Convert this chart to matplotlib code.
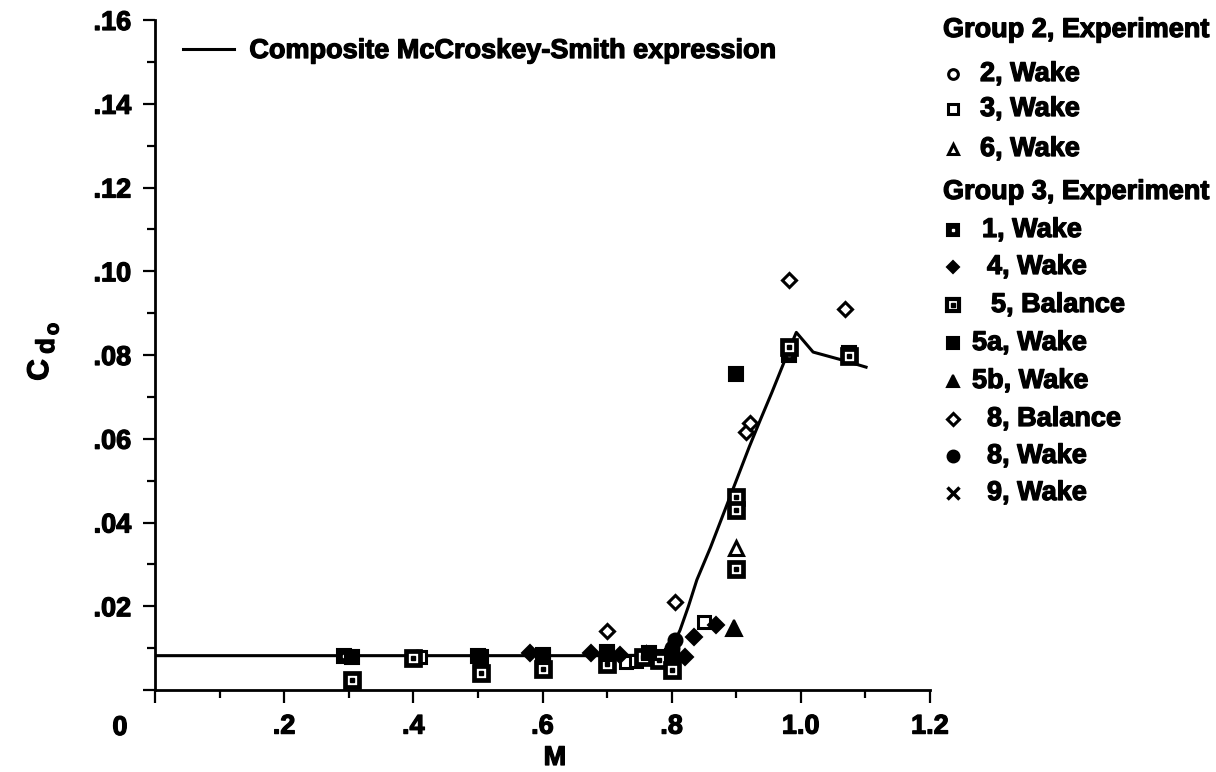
import matplotlib
matplotlib.use("Agg")
import matplotlib.pyplot as plt
import matplotlib.patheffects as pe
import numpy as np
from matplotlib.lines import Line2D
from matplotlib.ticker import MultipleLocator

plt.rcParams["font.family"] = ["Liberation Sans", "DejaVu Sans"]
plt.rcParams["font.weight"] = "bold"

# Composite McCroskey-Smith expression
curve_m = [0.0, 0.70, 0.76, 0.785, 0.80, 0.813, 0.826, 0.839, 0.86, 0.88, 0.90,
           0.92, 0.937, 0.955, 0.972, 0.985, 0.993, 1.019, 1.064, 1.101]
curve_cd = [0.0082, 0.0082, 0.0083, 0.0088, 0.0100, 0.0143, 0.0200, 0.0263, 0.0340,
            0.0420, 0.0500, 0.0580, 0.0644, 0.0710, 0.0775, 0.0825, 0.0854, 0.0807,
            0.0788, 0.0771]

# Group 2
g2_wake2_m = [0.405, 0.70, 0.80]
g2_wake2_cd = [0.0080, 0.0075, 0.0090]
g2_wake3_m = [0.41, 0.70, 0.73, 0.745, 0.85]
g2_wake3_cd = [0.0078, 0.0066, 0.0068, 0.0070, 0.0163]
g2_wake6_m = [0.76, 0.90]
g2_wake6_cd = [0.0085, 0.0340]

# Group 3
g3_wake1_m = [0.293, 0.50, 0.60, 0.70, 0.78, 0.982, 1.075]
g3_wake1_cd = [0.0082, 0.0082, 0.0084, 0.0090, 0.0078, 0.0800, 0.0805]
g3_wake4_m = [0.58, 0.675, 0.72, 0.82, 0.835, 0.868]
g3_wake4_cd = [0.0088, 0.0088, 0.0083, 0.0080, 0.0127, 0.0155]
g3_bal5_m = [0.305, 0.40, 0.505, 0.60, 0.70, 0.755, 0.78, 0.80, 0.90, 0.90, 0.90, 0.982, 1.075]
g3_bal5_cd = [0.0024, 0.0077, 0.0040, 0.0050, 0.0062, 0.0078, 0.0072, 0.0048,
              0.0460, 0.0430, 0.0290, 0.0818, 0.0798]
g3_wake5a_m = [0.305, 0.505, 0.60, 0.70, 0.765, 0.80, 0.90]
g3_wake5a_cd = [0.0079, 0.0080, 0.0078, 0.0085, 0.0088, 0.0082, 0.0755]
g3_wake5b_m = [0.897]
g3_wake5b_cd = [0.0148]
g3_bal8_m = [0.70, 0.805, 0.915, 0.922, 0.982, 1.068]
g3_bal8_cd = [0.0141, 0.0210, 0.0616, 0.0637, 0.0980, 0.0911]
g3_wake8_m = [0.80, 0.805]
g3_wake8_cd = [0.0100, 0.0120]
g3_wake9_m = []
g3_wake9_cd = []

x_ticks = [0, 0.2, 0.4, 0.6, 0.8, 1.0, 1.2]
x_tick_labels = ["", ".2", ".4", ".6", ".8", "1.0", "1.2"]
y_ticks = [0, 0.02, 0.04, 0.06, 0.08, 0.10, 0.12, 0.14, 0.16]
y_tick_labels = ["", ".02", ".04", ".06", ".08", ".10", ".12", ".14", ".16"]

W, H = 1216, 772
fig = plt.figure(figsize=(W / 100, H / 100), dpi=100)
ax = fig.add_axes([155 / W, 1 - 690 / H, 775 / W, 670 / H])

FS = 19.5
# slightly heavier strokes for all lettering
heavy = [pe.withStroke(linewidth=0.9, foreground="black")]
open_kw = dict(linestyle="none", mfc="white", mec="black", mew=2.2, color="black")
fill_kw = dict(linestyle="none", mfc="black", mec="black", mew=1.5, color="black")

line, = ax.plot(curve_m, curve_cd, color="black", lw=2.2, zorder=2)

ax.plot(g2_wake2_m, g2_wake2_cd, marker="o", ms=9, zorder=3, **open_kw)
ax.plot(g2_wake3_m, g2_wake3_cd, marker="s", ms=9, zorder=3, **open_kw)
ax.plot(g2_wake6_m, g2_wake6_cd, marker="^", ms=10, zorder=3, **open_kw)
ax.plot(g3_wake1_m, g3_wake1_cd, marker="s", ms=10, zorder=4, **fill_kw)
ax.plot(g3_wake1_m, g3_wake1_cd, marker="s", ms=2, linestyle="none",
        mfc="white", mec="white", zorder=4)
ax.plot(g3_wake4_m, g3_wake4_cd, marker="D", ms=8, zorder=4, **fill_kw)
ax.plot(g3_bal5_m, g3_bal5_cd, marker="s", ms=10, zorder=4, linestyle="none",
        mfc="white", mec="black", mew=3.4)
ax.plot(g3_bal5_m, g3_bal5_cd, marker="s", ms=2.5, linestyle="none",
        mfc="black", mec="black", zorder=4)
ax.plot(g3_wake5a_m, g3_wake5a_cd, marker="s", ms=10.5, zorder=4, **fill_kw)
ax.plot(g3_wake5b_m, g3_wake5b_cd, marker="^", ms=11, zorder=4, **fill_kw)
ax.plot(g3_bal8_m, g3_bal8_cd, marker="D", ms=7, zorder=4, **open_kw)
ax.plot(g3_wake8_m, g3_wake8_cd, marker="o", ms=10, zorder=4, **fill_kw)
ax.plot(g3_wake9_m, g3_wake9_cd, marker="x", ms=9, zorder=4, **fill_kw)

ax.set_xlim(0, 1.2)
ax.set_ylim(0, 0.16)
ax.set_xticks(x_ticks)
ax.set_xticklabels(x_tick_labels)
ax.set_yticks(y_ticks)
ax.set_yticklabels(y_tick_labels)
ax.xaxis.set_minor_locator(MultipleLocator(0.1))
ax.yaxis.set_minor_locator(MultipleLocator(0.01))
ax.tick_params(which="major", direction="out", length=9, width=1.6,
               labelsize=FS, pad=8)
ax.tick_params(which="minor", direction="out", length=6, width=1.6)
for lab in ax.get_xticklabels() + ax.get_yticklabels():
    lab.set_fontweight("bold")
    lab.set_path_effects(heavy)

for side in ["top", "right"]:
    ax.spines[side].set_visible(False)
for side in ["left", "bottom"]:
    ax.spines[side].set_linewidth(2.0)


def fig_xy(px, py):
    return px / W, 1 - py / H


def put_text(px, py, s, **kw):
    fx, fy = fig_xy(px, py)
    kw.setdefault("fontsize", FS)
    kw.setdefault("ha", "center")
    fig.text(fx, fy, s, fontweight="bold", va="center", path_effects=heavy, **kw)


# axis titles
put_text(555, 758, "M")
put_text(120, 728, "0")
put_text(40, 370, "C", fontsize=FS + 2, rotation=90)
put_text(47, 346, "d", fontsize=FS - 1, rotation=90)
put_text(53, 329, "o", fontsize=FS - 5, rotation=90)

leg = ax.legend([line], ["Composite McCroskey-Smith expression"], loc="upper left",
                bbox_to_anchor=((183 - 155) / 775, (690 - 38) / 670), frameon=False,
                handlelength=1.9, handletextpad=0.55,
                borderpad=0, borderaxespad=0, prop={"weight": "bold", "size": FS})
for t in leg.get_texts():
    t.set_path_effects(heavy)

# legend for the experiment groups, right of the axes
headers = [("Group 2, Experiment", 30), ("Group 3, Experiment", 192)]
for text, py in headers:
    put_text(943, py, text, ha="left")

entries = [
    ("2, Wake", 74, 980, dict(marker="o", ms=7, **open_kw)),
    ("3, Wake", 109, 980, dict(marker="s", ms=7, **open_kw)),
    ("6, Wake", 149, 980, dict(marker="^", ms=7, **open_kw)),
    ("1, Wake", 230, 982, dict(marker="s", ms=8, **fill_kw)),
    ("4, Wake", 267, 987, dict(marker="D", ms=6, **fill_kw)),
    ("5, Balance", 305, 991, dict(marker="s", ms=8, linestyle="none",
                                  mfc="white", mec="black", mew=3.0)),
    ("5a, Wake", 343, 972, dict(marker="s", ms=8.5, **fill_kw)),
    ("5b, Wake", 381, 972, dict(marker="^", ms=8, **fill_kw)),
    ("8, Balance", 419, 987, dict(marker="D", ms=6, **open_kw)),
    ("8, Wake", 456, 987, dict(marker="o", ms=8.5, **fill_kw)),
    ("9, Wake", 493, 987, dict(marker="x", ms=8, linestyle="none",
                               color="black", mew=2.5)),
]
for text, py, tx, style in entries:
    mx, my = fig_xy(953, py)
    fig.add_artist(Line2D([mx], [my], transform=fig.transFigure, **style))
    if text == "1, Wake":
        fig.add_artist(Line2D([mx], [my], transform=fig.transFigure, marker="s",
                              ms=2, linestyle="none", mfc="white", mec="white"))
    if text == "5, Balance":
        fig.add_artist(Line2D([mx], [my], transform=fig.transFigure, marker="s",
                              ms=2.5, linestyle="none", mfc="black", mec="black"))
    put_text(tx, py, text, ha="left")

fig.savefig("out.png", dpi=100)
